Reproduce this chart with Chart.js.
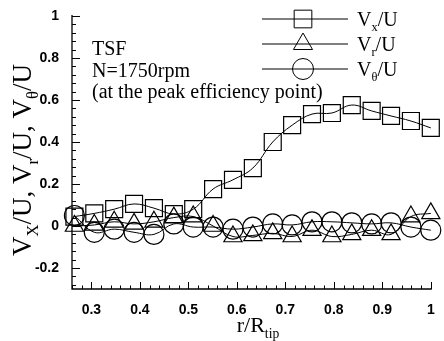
<!DOCTYPE html>
<html>
<head>
<meta charset="utf-8">
<script src="https://cdn.jsdelivr.net/npm/chart.js@4"></script>
<style>
  html, body { margin: 0; padding: 0; background: #fff; }
  #wrap { width: 444px; height: 341px; position: relative; }
</style>
</head>
<body>
<div id="wrap"><canvas id="velChart"></canvas></div>
<script>
// data
const rR = [0.265, 0.306, 0.347, 0.388, 0.429, 0.47, 0.51, 0.551, 0.592, 0.633,
            0.674, 0.714, 0.755, 0.796, 0.837, 0.878, 0.918, 0.959, 1.0];
const vxU = [0.045, 0.06, 0.08, 0.105, 0.085, 0.057, 0.08, 0.176, 0.22, 0.276,
             0.40, 0.48, 0.533, 0.538, 0.576, 0.548, 0.524, 0.50, 0.467];
const vrU = [0.0, 0.005, 0.02, 0.01, 0.02, 0.04, 0.045, 0.0, -0.05, -0.045,
             -0.035, -0.05, -0.02, -0.05, -0.04, -0.02, -0.04, 0.045, 0.06];
const vtU = [0.05, -0.03, -0.015, -0.03, -0.04, 0.01, -0.005, -0.005, -0.015, -0.005,
             0.01, 0.005, 0.02, 0.02, 0.015, 0.01, 0.015, -0.005, -0.02];

const xTicks = [0.3, 0.4, 0.5, 0.6, 0.7, 0.8, 0.9, 1];
const yTicks = [-0.2, 0, 0.2, 0.4, 0.6, 0.8, 1];

// legend labels: [text, isSubscript]
const legendLabels = [
  [["V", false], ["x", true], ["/U", false]],
  [["V", false], ["r", true], ["/U", false]],
  [["V", false], ["\u03B8", true], ["/U", false]],
];
const yTitle = [["V", false], ["X", true], ["/U, V", false], ["r", true],
                ["/U, V", false], ["\u03B8", true], ["/U", false]];
const xTitle = [["r/R", false], ["tip", true]];
const notes = ["TSF", "N=1750rpm", "(at the peak efficiency point)"];

const SERIF = "'Liberation Serif', 'Times New Roman', serif";

function pts(ys) { return rR.map((r, i) => ({ x: r, y: ys[i] })); }

// text with subscript pieces
function richWidth(ctx, parts, size) {
  let w = 0;
  parts.forEach(([t, sub]) => {
    ctx.font = (sub ? size * 0.62 : size) + "px " + SERIF;
    w += ctx.measureText(t).width;
  });
  return w;
}
function drawRich(ctx, parts, x, y, size) {
  parts.forEach(([t, sub]) => {
    ctx.font = (sub ? size * 0.62 : size) + "px " + SERIF;
    ctx.fillText(t, x, sub ? y + size * 0.25 : y);
    x += ctx.measureText(t).width;
  });
}

const decorPlugin = {
  id: "decor",
  afterDatasetsDraw(chart) {
    const ctx = chart.ctx;
    const xs = chart.scales.x, ys = chart.scales.y;
    const a = chart.chartArea;
    ctx.save();
    ctx.strokeStyle = "#000";
    ctx.lineWidth = 1.3;
    // axis lines
    ctx.beginPath();
    ctx.moveTo(a.left, a.top - 1);
    ctx.lineTo(a.left, a.bottom);
    ctx.lineTo(a.right + 1, a.bottom);
    ctx.stroke();
    // ticks inward, majors + minors
    ctx.lineWidth = 1;
    ctx.beginPath();
    for (let i = 0; i <= 37; i++) {
      const v = 0.26 + i * 0.02;
      const px = Math.round(xs.getPixelForValue(v)) + 0.5;
      const major = Math.abs(v * 10 - Math.round(v * 10)) < 1e-6;
      ctx.moveTo(px, a.bottom);
      ctx.lineTo(px, a.bottom - (major ? 7 : 3.5));
    }
    for (let i = 0; i <= 32; i++) {
      const v = -0.28 + i * 0.04;
      const py = Math.round(ys.getPixelForValue(v)) + 0.5;
      const major = Math.abs(v * 5 - Math.round(v * 5)) < 1e-6;
      ctx.moveTo(a.left, py);
      ctx.lineTo(a.left + (major ? 8 : 4), py);
    }
    ctx.stroke();
    ctx.restore();
  },
  afterDraw(chart) {
    const ctx = chart.ctx;
    ctx.save();
    ctx.fillStyle = "#000";
    ctx.textBaseline = "alphabetic";
    ctx.textAlign = "left";

    // notes
    ctx.font = "20px " + SERIF;
    notes.forEach((t, i) => ctx.fillText(t, 92, 55 + i * 21.5));

    // legend
    chart.data.datasets.forEach((ds, i) => {
      const y = 19 + i * 25;
      ctx.strokeStyle = "#000";
      ctx.lineWidth = 1;
      ctx.beginPath();
      ctx.moveTo(262, y);
      ctx.lineTo(348, y);
      ctx.stroke();
      ctx.fillStyle = "rgba(0,0,0,0)";
      Chart.helpers.drawPoint(ctx, {
        pointStyle: ds.pointStyle, radius: ds.pointRadius + 0.5,
        rotation: 0, borderWidth: ds.pointBorderWidth
      }, 303, y);
      ctx.fillStyle = "#000";
      drawRich(ctx, legendLabels[i], 357, y + 7, 20);
    });

    // x title
    const xw = richWidth(ctx, xTitle, 22);
    drawRich(ctx, xTitle, 258 - xw / 2, 332, 22);

    // y title, rotated
    ctx.translate(31, 160);
    ctx.rotate(-Math.PI / 2);
    const yw = richWidth(ctx, yTitle, 27);
    drawRich(ctx, yTitle, -yw / 2, 0, 27);
    ctx.restore();
  }
};

const common = {
  borderColor: "#000",
  borderWidth: 1,
  pointBackgroundColor: "rgba(0,0,0,0)",
  pointBorderColor: "#000",
  pointBorderWidth: 1.2,
  tension: 0.4,
  fill: false,
  clip: false,
};

new Chart(document.getElementById("velChart"), {
  type: "line",
  data: {
    datasets: [
      Object.assign({ label: "Vx/U", data: pts(vxU), pointStyle: "rect", pointRadius: 12 }, common),
      Object.assign({ label: "Vr/U", data: pts(vrU), pointStyle: "triangle", pointRadius: 10.5 }, common),
      Object.assign({ label: "Vt/U", data: pts(vtU), pointStyle: "circle", pointRadius: 10 }, common),
    ],
  },
  options: {
    responsive: true,
    maintainAspectRatio: false,
    animation: false,
    layout: { padding: { top: 16, right: 10, left: 0, bottom: 0 } },
    plugins: { legend: { display: false }, tooltip: { enabled: false } },
    scales: {
      x: {
        type: "linear",
        min: 0.26,
        max: 1,
        grid: { display: false },
        border: { display: false },
        afterBuildTicks: (s) => { s.ticks = xTicks.map((v) => ({ value: v })); },
        afterFit: (s) => { s.height = 52; },
        ticks: {
          color: "#000",
          padding: 5,
          font: { family: "'Liberation Sans', Arial", size: 14, weight: "bold" },
          callback: (v) => String(+(+v).toFixed(1)),
        },
      },
      y: {
        min: -0.3,
        max: 1,
        grid: { display: false },
        border: { display: false },
        afterBuildTicks: (s) => { s.ticks = yTicks.map((v) => ({ value: v })); },
        afterFit: (s) => { s.width = 72; },
        ticks: {
          color: "#000",
          padding: 5,
          font: { family: "'Liberation Sans', Arial", size: 14, weight: "bold" },
          callback: (v) => String(+(+v).toFixed(1)),
        },
      },
    },
  },
  plugins: [decorPlugin],
});
</script>
</body>
</html>
